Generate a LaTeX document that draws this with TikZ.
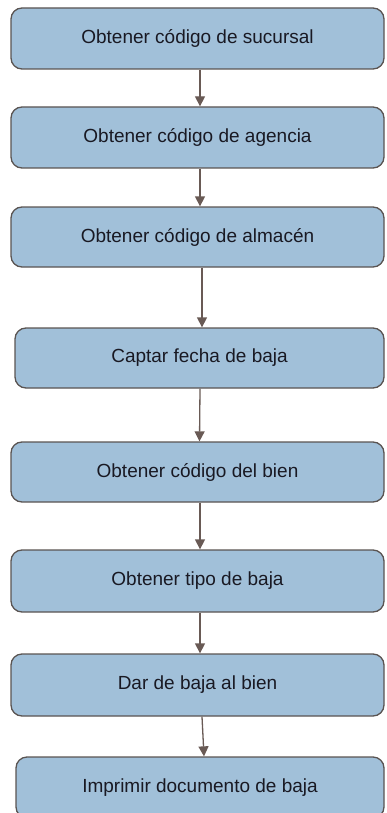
\documentclass[tikz,border=0pt]{standalone}
\usepackage{fontspec}
\setmainfont{Liberation Sans}
\usetikzlibrary{arrows.meta}
\definecolor{boxfill}{RGB}{161,192,217}
\definecolor{boxline}{RGB}{90,84,82}
\definecolor{arrowcol}{RGB}{105,90,85}
\definecolor{txt}{RGB}{25,25,35}
\tikzset{
  procbox/.style={draw=boxline, fill=boxfill, line width=1.3pt, rounded corners=11pt,
    inner sep=0pt, text=txt, font=\fontsize{19}{21}\selectfont},
  flow/.style={draw=arrowcol, line width=1.3pt, -{Triangle[length=10pt,width=10pt]}}
}
\newcommand{\pbox}[6]{% name, left, right, top, bottom, text
  \node[procbox, minimum width={#3-#2}, minimum height={#5-#4}] (#1) at ({(#2+#3)/2},{(#4+#5)/2}) {#6};}
\begin{document}
\begin{tikzpicture}[x=1pt,y=-1pt]
\useasboundingbox (0,0) rectangle (386,813);
\clip (0,0) rectangle (386,813);
\pbox{b1}{11}{384}{8}{69}{Obtener código de sucursal}
\pbox{b2}{11}{384}{107}{168}{Obtener código de agencia}
\pbox{b3}{11}{384}{207}{267}{Obtener código de almacén}
\pbox{b4}{15}{384}{328}{388}{Captar fecha de baja}
\pbox{b5}{11}{384}{442}{502}{Obtener código del bien}
\pbox{b6}{11}{384}{550}{612}{Obtener tipo de baja}
\pbox{b7}{11}{384}{654}{716}{Dar de baja al bien}
\pbox{b8}{16}{384}{757}{818}{Imprimir documento de baja}
\draw[flow] ([xshift=2.5pt]b1.south) -- ([xshift=2.5pt]b2.north);
\draw[flow] ([xshift=2.5pt]b2.south) -- ([xshift=2.5pt]b3.north);
\draw[flow] ([xshift=4.5pt]b3.south) -- ([xshift=2.5pt]b4.north);
\draw[flow] ([xshift=0.5pt]b4.south) -- ([xshift=2pt]b5.north);
\draw[flow] ([xshift=2.5pt]b5.south) -- ([xshift=2.5pt]b6.north);
\draw[flow] ([xshift=2.5pt]b6.south) -- ([xshift=2.5pt]b7.north);
\draw[flow] ([xshift=4.5pt]b7.south) -- ([xshift=4pt]b8.north);
\end{tikzpicture}
\end{document}
